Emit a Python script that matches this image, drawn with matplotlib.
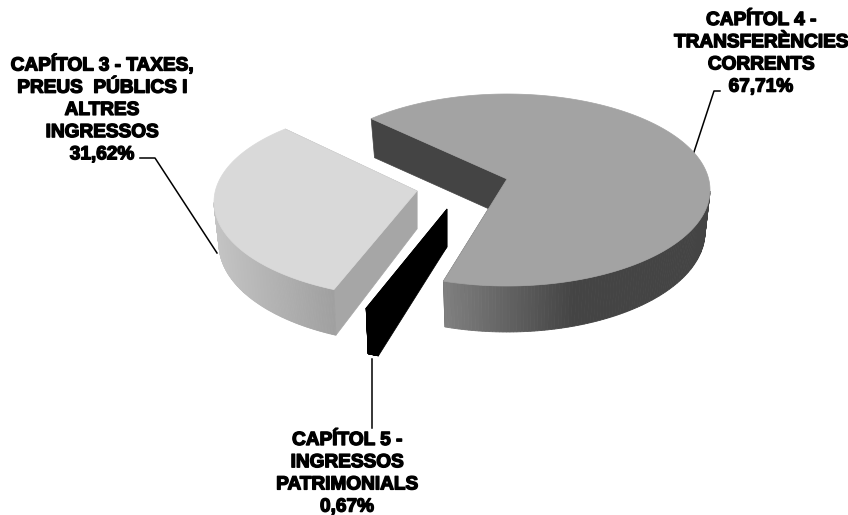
# /usr/bin/python

import matplotlib
matplotlib.use("Agg")
import matplotlib.pyplot as plt
import matplotlib.colors as mcolors
import matplotlib.patheffects as pe
import numpy as np

labels = ["CAPÍTOL 4 -\nTRANSFERÈNCIES\nCORRENTS\n67,71%",
          "CAPÍTOL 5 -\nINGRESSOS\nPATRIMONIALS\n0,67%",
          "CAPÍTOL 3 - TAXES,\nPREUS  PÚBLICS I\nALTRES\nINGRESSOS\n31,62%"]
values = [67.71, 0.67, 31.62]

# style of every slice, same order as values
centers = [(507, 179), (447, 209), (417, 191)]
top_colors = ["#a3a3a3", "#000000", "#d9d9d9"]
cut_colors = ["#444444", "#000000", "#a6a6a6"]
rim_from = ["#808080", "#000000", "#c4c4c4"]
rim_to = ["#444444", "#000000", "#a0a0a0"]
shade_x = [(445, 575), (360, 380), (214, 333)]
# perspective nudges for the two ends of each slice, in degrees
nudges = [(-1.5, 2.0), (0.0, -0.8), (-1.5, -3.0)]
label_pos = [(761, 12), (347, 432), (102, 55)]
leaders = [[(720, 91), (714, 91), (693, 155)],
           [(372, 359), (372, 428)],
           [(140, 158), (155, 158), (217, 253)]]

START = 133.5
RX, RY = 203, 96
YOFF = 11


def rim(center, a):
    # point on the top ellipse, the apex sits a bit behind its middle
    t = np.radians(a)
    return center[0] + RX * np.cos(t), center[1] + YOFF - RY * np.sin(t)


def rimLow(center, a):
    # same point on the bottom edge, a little narrower and deeper in front
    t = np.radians(a)
    x, y = rim(center, a)
    return center[0] + (RX - 5) * np.cos(t), y + 42 - 4 * np.sin(t)


def drawSlice(ax, center, a0, a1, top, cut, c0, c1, shade, z):
    # a0 > a1, slice runs clockwise
    angles = np.linspace(a0, a1, 240)
    xr, yr = rim(center, angles)

    # cut walls, back one first
    for a in (a0, a1):
        xe, ye = rim(center, a)
        xl, yl = rimLow(center, a)
        ax.fill([center[0], xe, xl, center[0]],
                [center[1], ye, yl, center[1] + 38],
                color=cut, lw=0.5, zorder=z)

    # outer wall, only the front part shows
    front = angles[np.sin(np.radians(angles)) <= 0.0]
    rgb0 = np.array(mcolors.to_rgb(c0))
    rgb1 = np.array(mcolors.to_rgb(c1))
    for i in range(len(front) - 1):
        xa, ya = rim(center, front[i])
        xb, yb = rim(center, front[i + 1])
        xc, yc = rimLow(center, front[i + 1])
        xd, yd = rimLow(center, front[i])
        s = np.clip((xa - shade[0]) / (shade[1] - shade[0]), 0, 1)
        col = rgb0 + (rgb1 - rgb0) * s
        ax.fill([xa, xb, xc, xd], [ya, yb, yc, yd], color=col, lw=0.6,
                snap=False, zorder=z + 0.1)

    ax.fill(np.r_[center[0], xr], np.r_[center[1], yr], color=top, lw=0.5, zorder=z + 0.2)


def plotPie():
    fig = plt.figure(figsize=(8.48, 5.15), dpi=100)
    ax = fig.add_axes([0, 0, 1, 1])
    ax.set_xlim(0, 848)
    ax.set_ylim(515, 0)
    ax.axis("off")

    a = START
    for i, v in enumerate(values):
        sweep = v / sum(values) * 360
        drawSlice(ax, centers[i], a + nudges[i][0], a - sweep + nudges[i][1],
                  top_colors[i], cut_colors[i], rim_from[i], rim_to[i], shade_x[i], 2 + i)
        a -= sweep

    for line in leaders:
        xs = [p[0] for p in line]
        ys = [p[1] for p in line]
        ax.plot(xs, ys, color="black", lw=1.1, zorder=1)

    for txt, pos in zip(labels, label_pos):
        ax.text(pos[0], pos[1], txt, ha="center", va="top", multialignment="center",
                family="Liberation Sans", weight="bold", fontsize=13.7, linespacing=1.4,
                color="black", zorder=10,
                path_effects=[pe.withStroke(linewidth=1.0, foreground="black")])

    fig.savefig("out.png", dpi=100)


if __name__ == "__main__":
    plotPie()
